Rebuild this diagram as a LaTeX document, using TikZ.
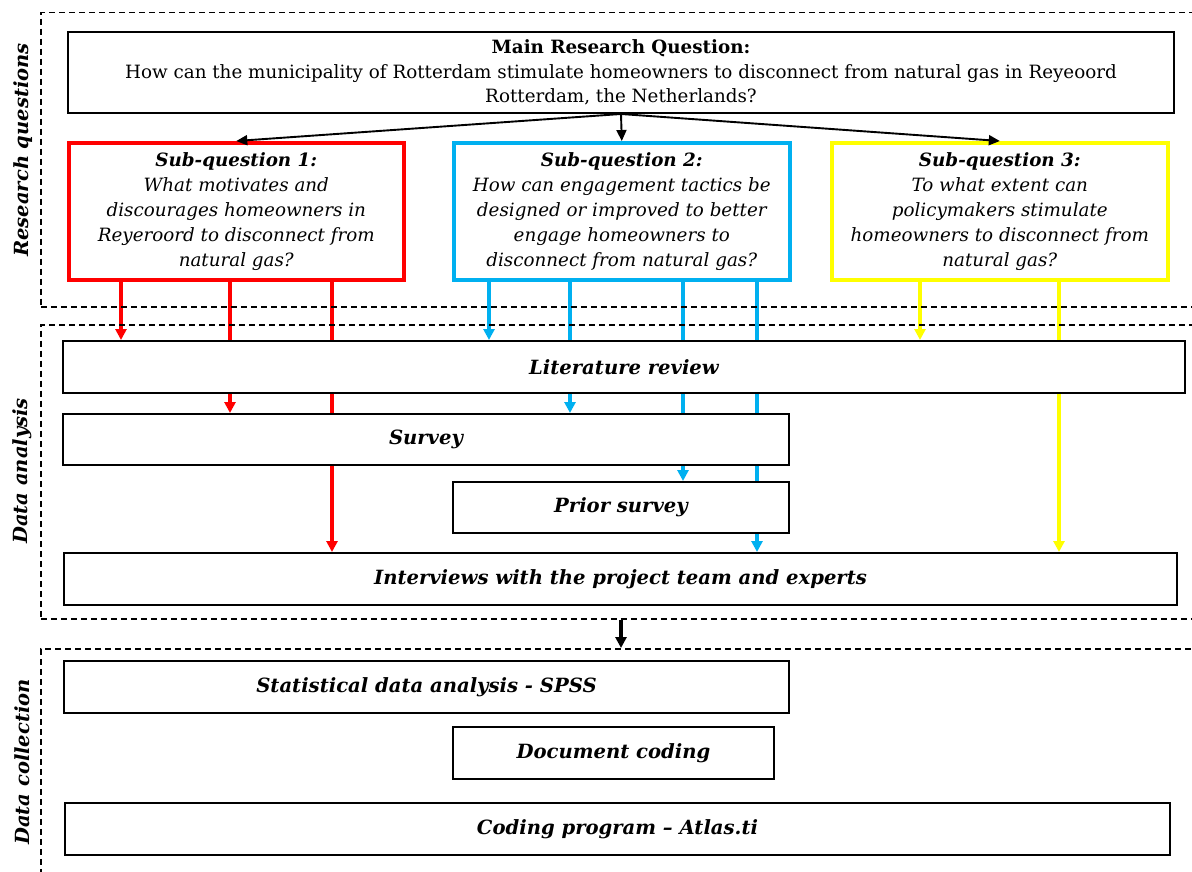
\documentclass[tikz,border=0pt]{standalone}
\usepackage{fontspec}
\setmainfont{DejaVu Serif}
\usetikzlibrary{arrows.meta}
\pgfdeclarelayer{back}
\pgfdeclarelayer{bg}
\pgfsetlayers{back,bg,main}
\definecolor{cred}{HTML}{FF0000}
\definecolor{cblue}{HTML}{00B0F0}
\definecolor{cyel}{HTML}{FFFF00}
\begin{document}
\begin{tikzpicture}[x=1pt,y=-1pt,
  frame/.style={draw, line width=1.5pt, dash pattern=on 6pt off 4pt, inner sep=0pt, anchor=north west},
  box/.style={draw, line width=2pt, fill=white, inner sep=0pt, anchor=north west, align=center,
    font=\fontsize{19.6}{24}\selectfont\bfseries\itshape},
  mainbox/.style={draw, line width=2pt, fill=white, inner sep=0pt, anchor=north west, align=center,
    font=\fontsize{18.3}{24.5}\selectfont},
  sq/.style={draw=#1, line width=3.6pt, fill=white, inner sep=0pt, anchor=north west, align=center,
    font=\fontsize{18.3}{25}\selectfont\itshape},
  arr/.style={draw=#1, line width=3.3pt, -{Triangle[length=11pt,width=11pt]}},
  thinarr/.style={draw=black, line width=1.9pt, -{Triangle[length=11pt,width=10pt]}},
  side/.style={rotate=90, font=\fontsize{19.5}{21}\selectfont\bfseries\itshape}
]
\useasboundingbox (0,0) rectangle (1192,872);
\begin{pgfonlayer}{back}
\fill[white] (0,0) rectangle (1192,872);
\end{pgfonlayer}

% dashed frames
\node[frame, minimum width=1170pt, minimum height=294pt] (frq) at (40,12) {};
\node[frame, minimum width=1170pt, minimum height=294pt] (fda) at (40,324) {};
\node[frame, minimum width=1170pt, minimum height=260pt] (fdc) at (40,648) {};

% side labels
\node[side] (lrq) at (23,150) {Research questions};
\node[side] (lda) at (22,471) {Data analysis};
\node[side] (ldc) at (22,762) {Data collection};

% main question
\node[mainbox, minimum width=1106pt, minimum height=81pt] (main) at (67,31)
  {{\bfseries Main Research Question:}\\How can the municipality of Rotterdam stimulate homeowners to disconnect from natural gas in Reyeoord\\Rotterdam, the Netherlands?};

% sub-questions
\node[sq=cred, minimum width=335pt, minimum height=137pt] (sq1) at (67,141)
  {{\bfseries Sub-question 1:}\\What motivates and\\discourages homeowners in\\Reyeroord to disconnect from\\natural gas?};
\node[sq=cblue, minimum width=336pt, minimum height=137pt] (sq2) at (452,141)
  {{\bfseries Sub-question 2:}\\How can engagement tactics be\\designed or improved to better\\engage homeowners to\\disconnect from natural gas?};
\node[sq=cyel, minimum width=336pt, minimum height=137pt] (sq3) at (830,141)
  {{\bfseries Sub-question 3:}\\To what extent can\\policymakers stimulate\\homeowners to disconnect from\\natural gas?};

% data analysis boxes
\node[box, minimum width=1122pt, minimum height=52pt] (lit) at (62,340) {Literature review};
\node[box, minimum width=726pt, minimum height=51pt] (sur) at (62,413) {Survey};
\node[box, minimum width=336pt, minimum height=51pt] (pri) at (452,481) {Prior survey};
\node[box, minimum width=1113pt, minimum height=52pt] (int) at (63,552) {Interviews with the project team and experts};

% data collection boxes
\node[box, minimum width=725pt, minimum height=52pt] (spss) at (63,660) {Statistical data analysis - SPSS};
\node[box, minimum width=321pt, minimum height=52pt] (doc) at (452,726) {Document coding};
\node[box, minimum width=1105pt, minimum height=52pt] (atl) at (64,802) {Coding program -- Atlas.ti};

% x positions of the connectors
\coordinate (r1) at (121,0);
\coordinate (r2) at (230,0);
\coordinate (r3) at (332,0);
\coordinate (b1) at (489,0);
\coordinate (b2) at (570,0);
\coordinate (b3) at (683,0);
\coordinate (b4) at (757,0);
\coordinate (y1) at (920,0);
\coordinate (y2) at (1059,0);
\coordinate (mid) at (621,0);

\begin{pgfonlayer}{bg}
\draw[arr=cred] (sq1.south -| r1) -- (lit.north -| r1);
\draw[arr=cred] (sq1.south -| r2) -- (sur.north -| r2);
\draw[arr=cred] (sq1.south -| r3) -- (int.north -| r3);
\draw[arr=cblue] (sq2.south -| b1) -- (lit.north -| b1);
\draw[arr=cblue] (sq2.south -| b2) -- (sur.north -| b2);
\draw[arr=cblue] (sq2.south -| b3) -- (pri.north -| b3);
\draw[arr=cblue] (sq2.south -| b4) -- (int.north -| b4);
\draw[arr=cyel] (sq3.south -| y1) -- (lit.north -| y1);
\draw[arr=cyel] (sq3.south -| y2) -- (int.north -| y2);
\end{pgfonlayer}

\draw[thinarr] (main.south) -- (sq1.north);
\draw[thinarr] (main.south) -- (sq2.north);
\draw[thinarr] (main.south) -- (sq3.north);
\draw[arr=black] (fda.south -| mid) -- (fdc.north -| mid);
\end{tikzpicture}
\end{document}
